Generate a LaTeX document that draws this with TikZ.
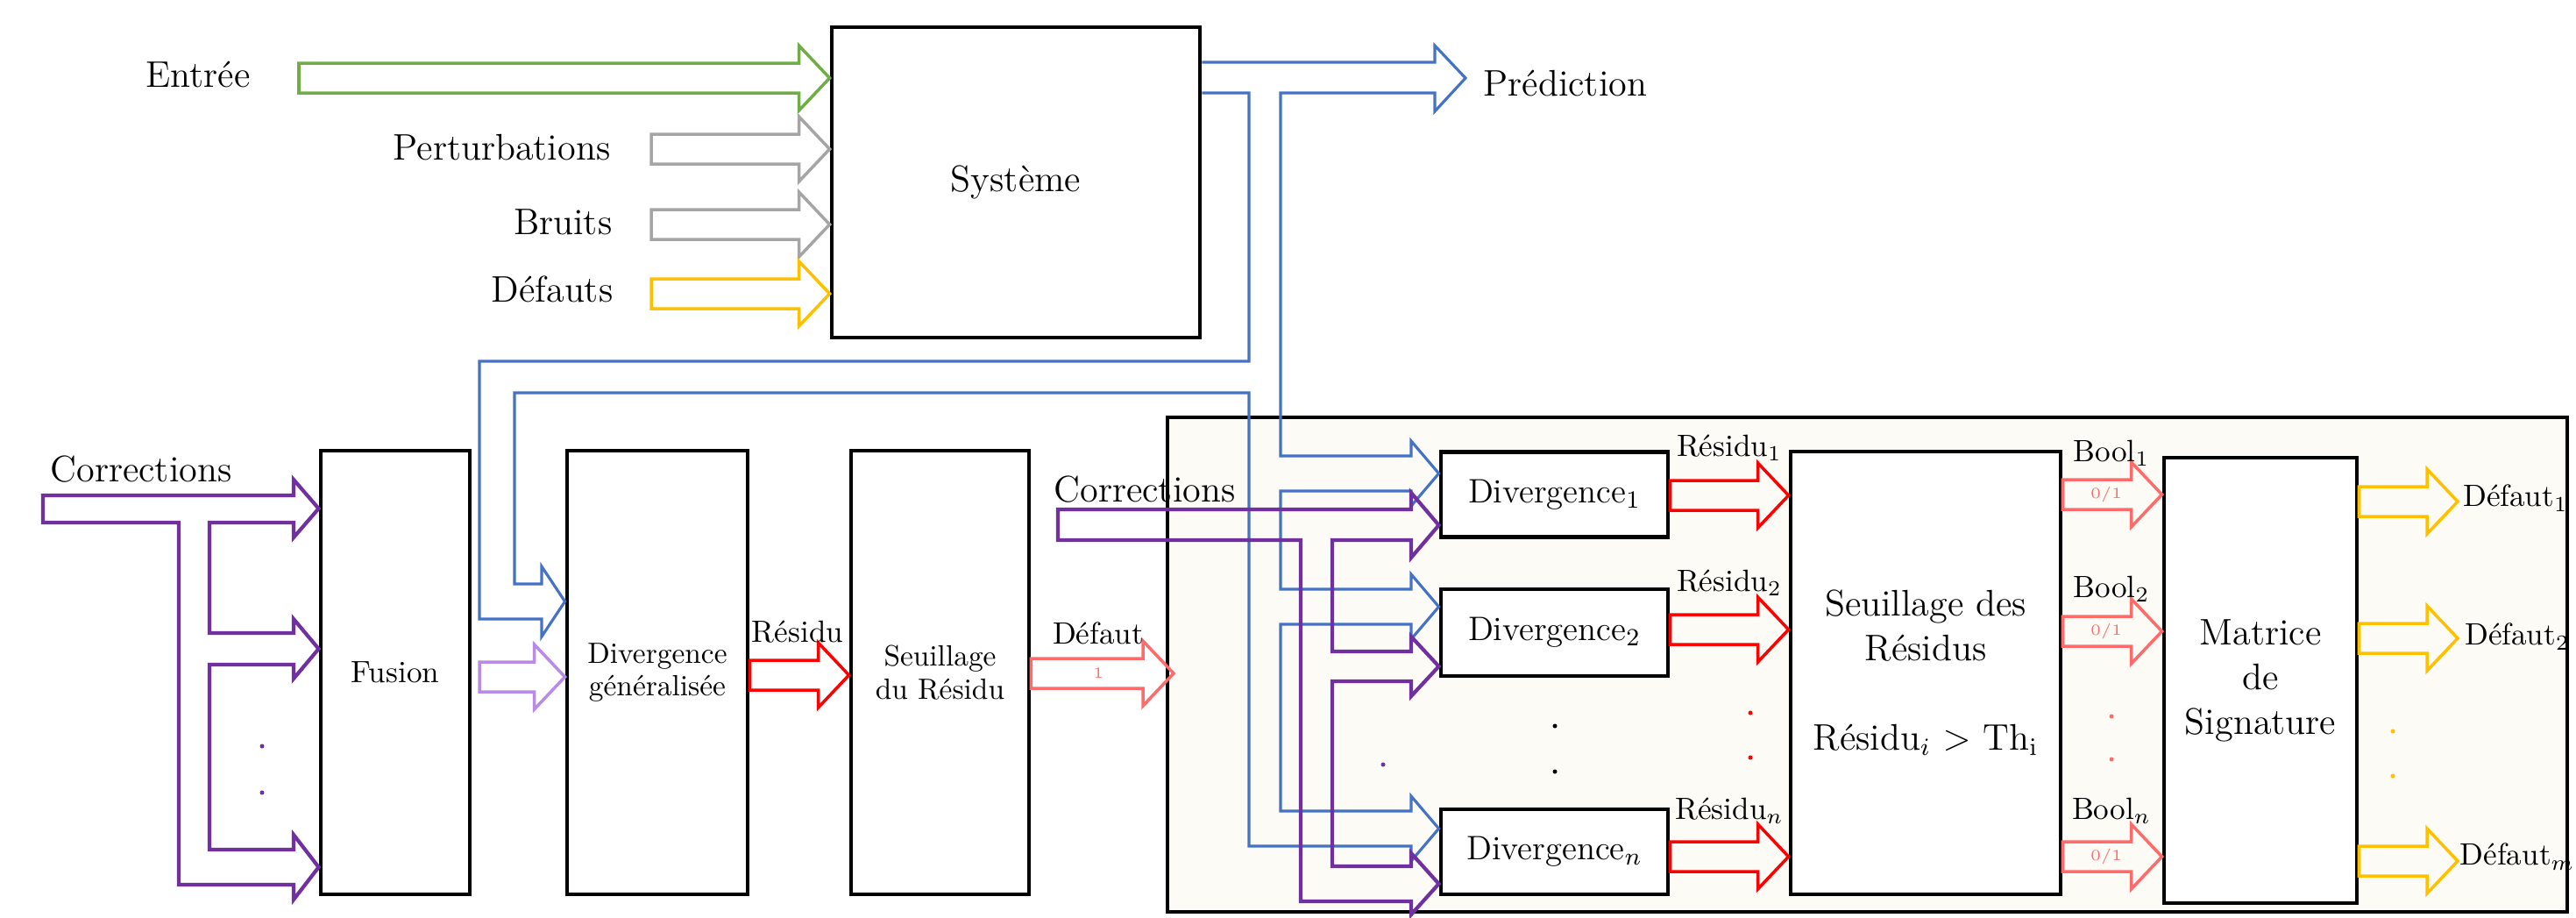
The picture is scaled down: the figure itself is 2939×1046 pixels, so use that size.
\documentclass[tikz,border=0pt]{standalone}
\usetikzlibrary{calc}

\definecolor{vert}{HTML}{70AD47}
\definecolor{gris}{HTML}{A5A5A5}
\definecolor{jaune}{HTML}{FFC000}
\definecolor{bleu}{HTML}{4472C4}
\definecolor{violet}{HTML}{7030A0}
\definecolor{lilas}{HTML}{B98AE6}
\definecolor{rouge}{HTML}{FF0000}
\definecolor{rose}{HTML}{FF6B6B}
\definecolor{creme}{HTML}{FCFBF6}

\newcommand{\blockarrow}[3]{%
  \draw[#1] let \p1=(#2), \p2=(#3) in
    (\x1,\y2+1.7mm) -- (\x2-3.5mm,\y2+1.7mm) -- (\x2-3.5mm,\y2+3.7mm) -- (\x2,\y2)
    -- (\x2-3.5mm,\y2-3.7mm) -- (\x2-3.5mm,\y2-1.7mm) -- (\x1,\y2-1.7mm) -- cycle;}

\begin{document}
\begin{tikzpicture}[x=0.1mm, y=-0.1mm,
    box/.style={draw, line width=1.4pt, fill=white, inner sep=0pt, align=center, font=\fontsize{12}{14.5}\selectfont},
    arr/.style={line width=1pt, line join=miter},
    lbl/.style={inner sep=0pt, font=\fontsize{12}{14}\selectfont},
    sml/.style={inner sep=0pt, font=\fontsize{10}{12}\selectfont},
    tiny/.style={inner sep=0pt, text=rose, font=\fontsize{5}{6}\selectfont},
    pnt/.style={circle, fill, inner sep=0pt, minimum size=0.5mm}]
        \useasboundingbox (0,0) rectangle (2939,1046);

        \node[draw, line width=1.4pt, fill=creme, inner sep=0pt, minimum width=159.7mm, minimum height=56.4mm] (cadre) at (2130.5,758) {};

        \node[box, minimum width=42mm, minimum height=35.4mm] (sys) at (1159,208) {Système};
        \node[box, minimum width=17mm, minimum height=50.6mm, font=\fontsize{10}{12}\selectfont] (fusion) at (451,767) {Fusion};
        \node[box, minimum width=20.6mm, minimum height=50.6mm, font=\fontsize{9.5}{10.8}\selectfont] (divg) at (750,767) {Divergence\\généralisée};
        \node[box, minimum width=20.3mm, minimum height=50.6mm, font=\fontsize{9.5}{10.8}\selectfont] (seuil) at (1072.5,767) {Seuillage\\du Résidu};

        \node[box, minimum width=25.9mm, minimum height=9.7mm, font=\fontsize{11}{13}\selectfont] (div1) at (1773.5,564) {Divergence$_1$};
        \node[box, minimum width=25.9mm, minimum height=9.9mm, font=\fontsize{11}{13}\selectfont] (div2) at (1773.5,721.5) {Divergence$_2$};
        \node[box, minimum width=25.9mm, minimum height=9.7mm, font=\fontsize{11}{13}\selectfont] (divn) at (1773.5,971.5) {Divergence$_n$};
        \node[box, minimum width=30.8mm, minimum height=50.5mm] (seuils) at (2197,767.5) {Seuillage des\\Résidus\\[14.5pt]Résidu$_i$ $>$ Th$_\mathrm{i}$};
        \node[box, minimum width=22mm, minimum height=50.8mm] (sig) at (2579,776) {Matrice\\de\\Signature};

        \draw[arr, bleu, line width=0.9pt] (sys.east|-0,71) -- (1637,71) -- (1637,52) -- (1672,89) -- (1637,127) -- (1637,106)
            -- (1461,106) -- (1461,520) -- (1610,520) -- (1610,503) -- (div1.west|-0,540) -- (1610,577) -- (1610,560)
            -- (1461,560) -- (1461,672) -- (1610,672) -- (1610,655) -- (div2.west|-0,692) -- (1610,729) -- (1610,712)
            -- (1461,712) -- (1461,925) -- (1610,925) -- (1610,908) -- (divn.west|-0,945) -- (1610,982) -- (1610,965)
            -- (1425,965) -- (1425,448) -- (587,448) -- (587,666) -- (618,666) -- (618,646) -- (divg.west|-0,686)
            -- (618,726) -- (618,706) -- (547,706) -- (547,412) -- (1425,412) -- (1425,106) -- (sys.east|-0,106);

        \draw[arr, violet, line width=1.2pt] (49,565) -- (335,565) -- (335,547) -- (fusion.west|-0,580) -- (335,613) -- (335,596)
            -- (239,596) -- (239,722) -- (335,722) -- (335,706) -- (fusion.west|-0,740) -- (335,774) -- (335,758)
            -- (239,758) -- (239,969) -- (335,969) -- (335,952) -- (fusion.west|-0,989) -- (335,1026) -- (335,1009)
            -- (204,1009) -- (204,596) -- (49,596) -- cycle;
        \draw[arr, violet, line width=1.2pt] (1207,581) -- (1610,581) -- (1610,562) -- (div1.west|-0,599) -- (1610,636) -- (1610,616)
            -- (1520,616) -- (1520,743) -- (1610,743) -- (1610,726) -- (div2.west|-0,760) -- (1610,794) -- (1610,777)
            -- (1520,777) -- (1520,988) -- (1610,988) -- (1610,973) -- (divn.west|-0,1008) -- (1610,1043) -- (1610,1028)
            -- (1484,1028) -- (1484,616) -- (1207,616) -- cycle;

        \blockarrow{arr, vert}{341,89}{sys.west|-0,89}
        \blockarrow{arr, gris}{743,170}{sys.west|-0,170}
        \blockarrow{arr, gris}{743,256}{sys.west|-0,256}
        \blockarrow{arr, jaune}{743,335}{sys.west|-0,335}
        \blockarrow{arr, lilas}{547,772}{divg.west|-0,772}
        \blockarrow{arr, rouge}{divg.east|-0,770}{seuil.west|-0,770}
        \blockarrow{arr, rose}{seuil.east|-0,768}{1339,768}
        \blockarrow{arr, rouge}{div1.east|-0,565}{seuils.west|-0,565}
        \blockarrow{arr, rouge}{div2.east|-0,718}{seuils.west|-0,718}
        \blockarrow{arr, rouge}{divn.east|-0,977}{seuils.west|-0,977}
        \blockarrow{arr, rose}{seuils.east|-0,564}{sig.west|-0,564}
        \blockarrow{arr, rose}{seuils.east|-0,720}{sig.west|-0,720}
        \blockarrow{arr, rose}{seuils.east|-0,977}{sig.west|-0,977}
        \blockarrow{arr, jaune}{sig.east|-0,572}{2804,572}
        \blockarrow{arr, jaune}{sig.east|-0,728}{2804,728}
        \blockarrow{arr, jaune}{sig.east|-0,982}{2804,982}

        \node[lbl] (entree) at (226,85) {Entrée};
        \node[lbl, anchor=east] (pert) at (697,168) {Perturbations};
        \node[lbl, anchor=east] (bruits) at (699,253) {Bruits};
        \node[lbl, anchor=east] (defauts) at (700,330) {Défauts};
        \node[lbl, anchor=west] (pred) at (1692,95) {Prédiction};
        \node[lbl] (corr1) at (161,535) {Corrections};
        \node[lbl] (corr2) at (1306,558) {Corrections};
        \node[sml] (res) at (910,721) {Résidu};
        \node[sml] (def) at (1253,722) {Défaut};
        \node[tiny] (un) at (1253,768) {1};

        \node[sml] (res1) at (1973,511) {Résidu$_1$};
        \node[sml] (res2) at (1973,665) {Résidu$_2$};
        \node[sml] (resn) at (1973,925) {Résidu$_n$};
        \node[sml] (bool1) at (2409,517) {Bool$_1$};
        \node[sml] (bool2) at (2409,672) {Bool$_2$};
        \node[sml] (booln) at (2409,925) {Bool$_n$};
        \node[tiny] (b1) at (2403,564) {0/1};
        \node[tiny] (b2) at (2403,720) {0/1};
        \node[tiny] (bn) at (2403,977) {0/1};
        \node[sml] (def1) at (2870,568) {Défaut$_1$};
        \node[sml] (def2) at (2872,726) {Défaut$_2$};
        \node[sml] (defm) at (2872,977) {Défaut$_m$};

        \node[pnt, violet] (pv1) at (299,851) {};
        \node[pnt, violet] (pv2) at (299,904) {};
        \node[pnt, violet] (pv3) at (1578,872) {};
        \node[pnt] (pd1) at (1774,828) {};
        \node[pnt] (pd2) at (1774,880) {};
        \node[pnt, rouge] (pr1) at (1997,813) {};
        \node[pnt, rouge] (pr2) at (1997,864) {};
        \node[pnt, rose] (pb1) at (2409,817) {};
        \node[pnt, rose] (pb2) at (2409,866) {};
        \node[pnt, jaune] (pj1) at (2730,834) {};
        \node[pnt, jaune] (pj2) at (2730,885) {};
    \end{tikzpicture}
\end{document}
